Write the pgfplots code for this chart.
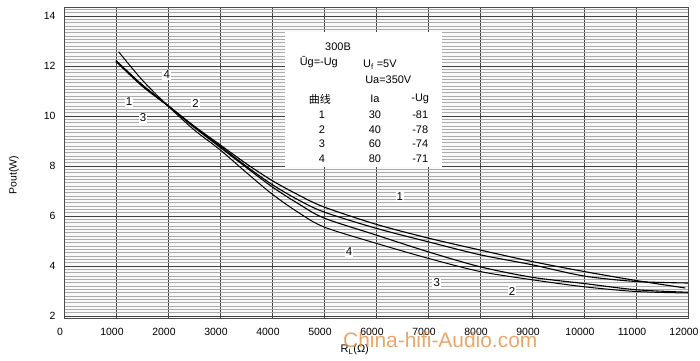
\documentclass[border=0pt]{standalone}
\usepackage{pgfplots}
\pgfplotsset{compat=1.18}
\usepackage{fontspec}
\setmainfont{Liberation Sans}
\newfontfamily\cjk{Noto Sans CJK SC}
\definecolor{wm}{RGB}{232,150,80}
\begin{document}
\begin{tikzpicture}
\begin{axis}[
  at={(0,0)}, anchor=south west,
  width=624bp, height=311bp, scale only axis,
  xmin=0, xmax=12000, ymin=1.92, ymax=14.36,
  scaled x ticks=false, scaled y ticks=false,
  xtick={0,1000,...,12000},
  xticklabels={0,1000,2000,3000,4000,5000,6000,7000,8000,9000,10000,11000,12000},
  ytick={2,4,...,14},
  yticklabels={2,4,6,8,10,12,14},
  minor ytick={2,2.13333,...,14.4},
  major tick length=0pt, minor tick length=0pt,
  xmajorgrids=true, yminorgrids=true, ymajorgrids=true,
  major grid style={black!75, line width=0.8bp},
  minor grid style={gray!65, line width=0.55bp},
  axis background/.style={fill=gray!5},
  axis line style={black!70, line width=0.8bp},
  tick label style={font=\fontsize{10.5}{12}\selectfont},
  xticklabel style={yshift=-7bp, xshift=-4bp},
  yticklabel style={xshift=-5bp},
  clip=false,
]
\addplot[black, line width=1.1bp, smooth] coordinates {
 (1000,12.22) (1500,11.25) (2000,10.42) (2500,9.60) (3000,8.85) (3500,8.10)
 (4000,7.42) (4500,6.85) (5000,6.36) (6000,5.67) (7000,5.12) (8000,4.64)
 (9000,4.18) (10000,3.78) (11000,3.42) (11950,3.12)};
\addplot[black, line width=1.1bp, smooth] coordinates {
 (1000,12.20) (1500,11.25) (2000,10.42) (2500,9.58) (3000,8.80) (3500,8.00)
 (4000,7.26) (4500,6.65) (5000,6.16) (6000,5.51) (7000,4.97) (8000,4.45)
 (9000,4.05) (10000,3.60) (11000,3.38) (12000,3.32)};
\addplot[black, line width=1.1bp, smooth] coordinates {
 (1000,12.18) (1500,11.20) (2000,10.40) (2500,9.55) (3000,8.75) (3500,7.95)
 (4000,7.17) (4500,6.50) (5000,5.92) (6000,5.24) (7000,4.57) (8000,3.97)
 (9000,3.55) (10000,3.30) (11000,3.05) (12000,2.95)};
\addplot[black, line width=1.0bp, smooth] coordinates {
 (1050,12.57) (1500,11.45) (2000,10.40) (2500,9.45) (3000,8.65) (3500,7.75)
 (4000,6.88) (4500,6.15) (5000,5.56) (6000,4.91) (7000,4.31) (8000,3.78)
 (9000,3.45) (10000,3.17) (11000,2.98) (12000,2.92)};

% curve labels
\begin{scope}[every node/.style={fill=white, inner sep=1.2bp, font=\fontsize{11.5}{12}\selectfont}]
\node at (axis cs:1250,10.56) {1};
\node at (axis cs:1520,9.92) {3};
\node at (axis cs:1975,11.64) {4};
\node at (axis cs:2530,10.48) {2};
\node at (axis cs:6460,6.76) {1};
\node at (axis cs:5480,4.56) {4};
\node at (axis cs:7170,3.32) {3};
\node at (axis cs:8615,3.00) {2};
\end{scope}

% inset box
\fill[white] (axis cs:4250,13.37) rectangle (axis cs:7263,7.97);
\begin{scope}[every node/.style={inner sep=0pt, font=\fontsize{11}{12}\selectfont}]
\node at (axis cs:5270,12.76) {300B};
\node at (axis cs:4900,12.16) {Ūg=-Ug};
\node[anchor=west] at (axis cs:5750,12.04) {U\textsubscript{f} =5V};
\node[anchor=west] at (axis cs:5790,11.44) {Ua=350V};
\node at (axis cs:4920,10.68) {\cjk 曲线};
\node at (axis cs:5980,10.68) {Ia};
\node at (axis cs:6850,10.68) {-Ug};
\node at (axis cs:4960,10.04) {1};
\node at (axis cs:4960,9.44) {2};
\node at (axis cs:4960,8.88) {3};
\node at (axis cs:4960,8.28) {4};
\node at (axis cs:5980,10.04) {30};
\node at (axis cs:5980,9.44) {40};
\node at (axis cs:5980,8.88) {60};
\node at (axis cs:5980,8.28) {80};
\node at (axis cs:6850,10.04) {-81};
\node at (axis cs:6850,9.44) {-78};
\node at (axis cs:6850,8.88) {-74};
\node at (axis cs:6850,8.28) {-71};
\end{scope}

% axis labels
\node[rotate=90, font=\fontsize{10.5}{12}\selectfont] at ([xshift=-50bp]rel axis cs:0,0.46) {Pout(W)};
\node[font=\fontsize{11}{12}\selectfont] at ([yshift=-32bp]rel axis cs:0.466,0) {R\textsubscript{L}(Ω)};
% watermark
\node[text=wm, opacity=0.85, font=\fontsize{21}{24}\selectfont] at ([yshift=-22bp]rel axis cs:0.603,0) {China-hifi-Audio.com};
\end{axis}
\pgfresetboundingbox
\path (-64bp,-43bp) rectangle (636bp,318bp);
\end{tikzpicture}
\end{document}
